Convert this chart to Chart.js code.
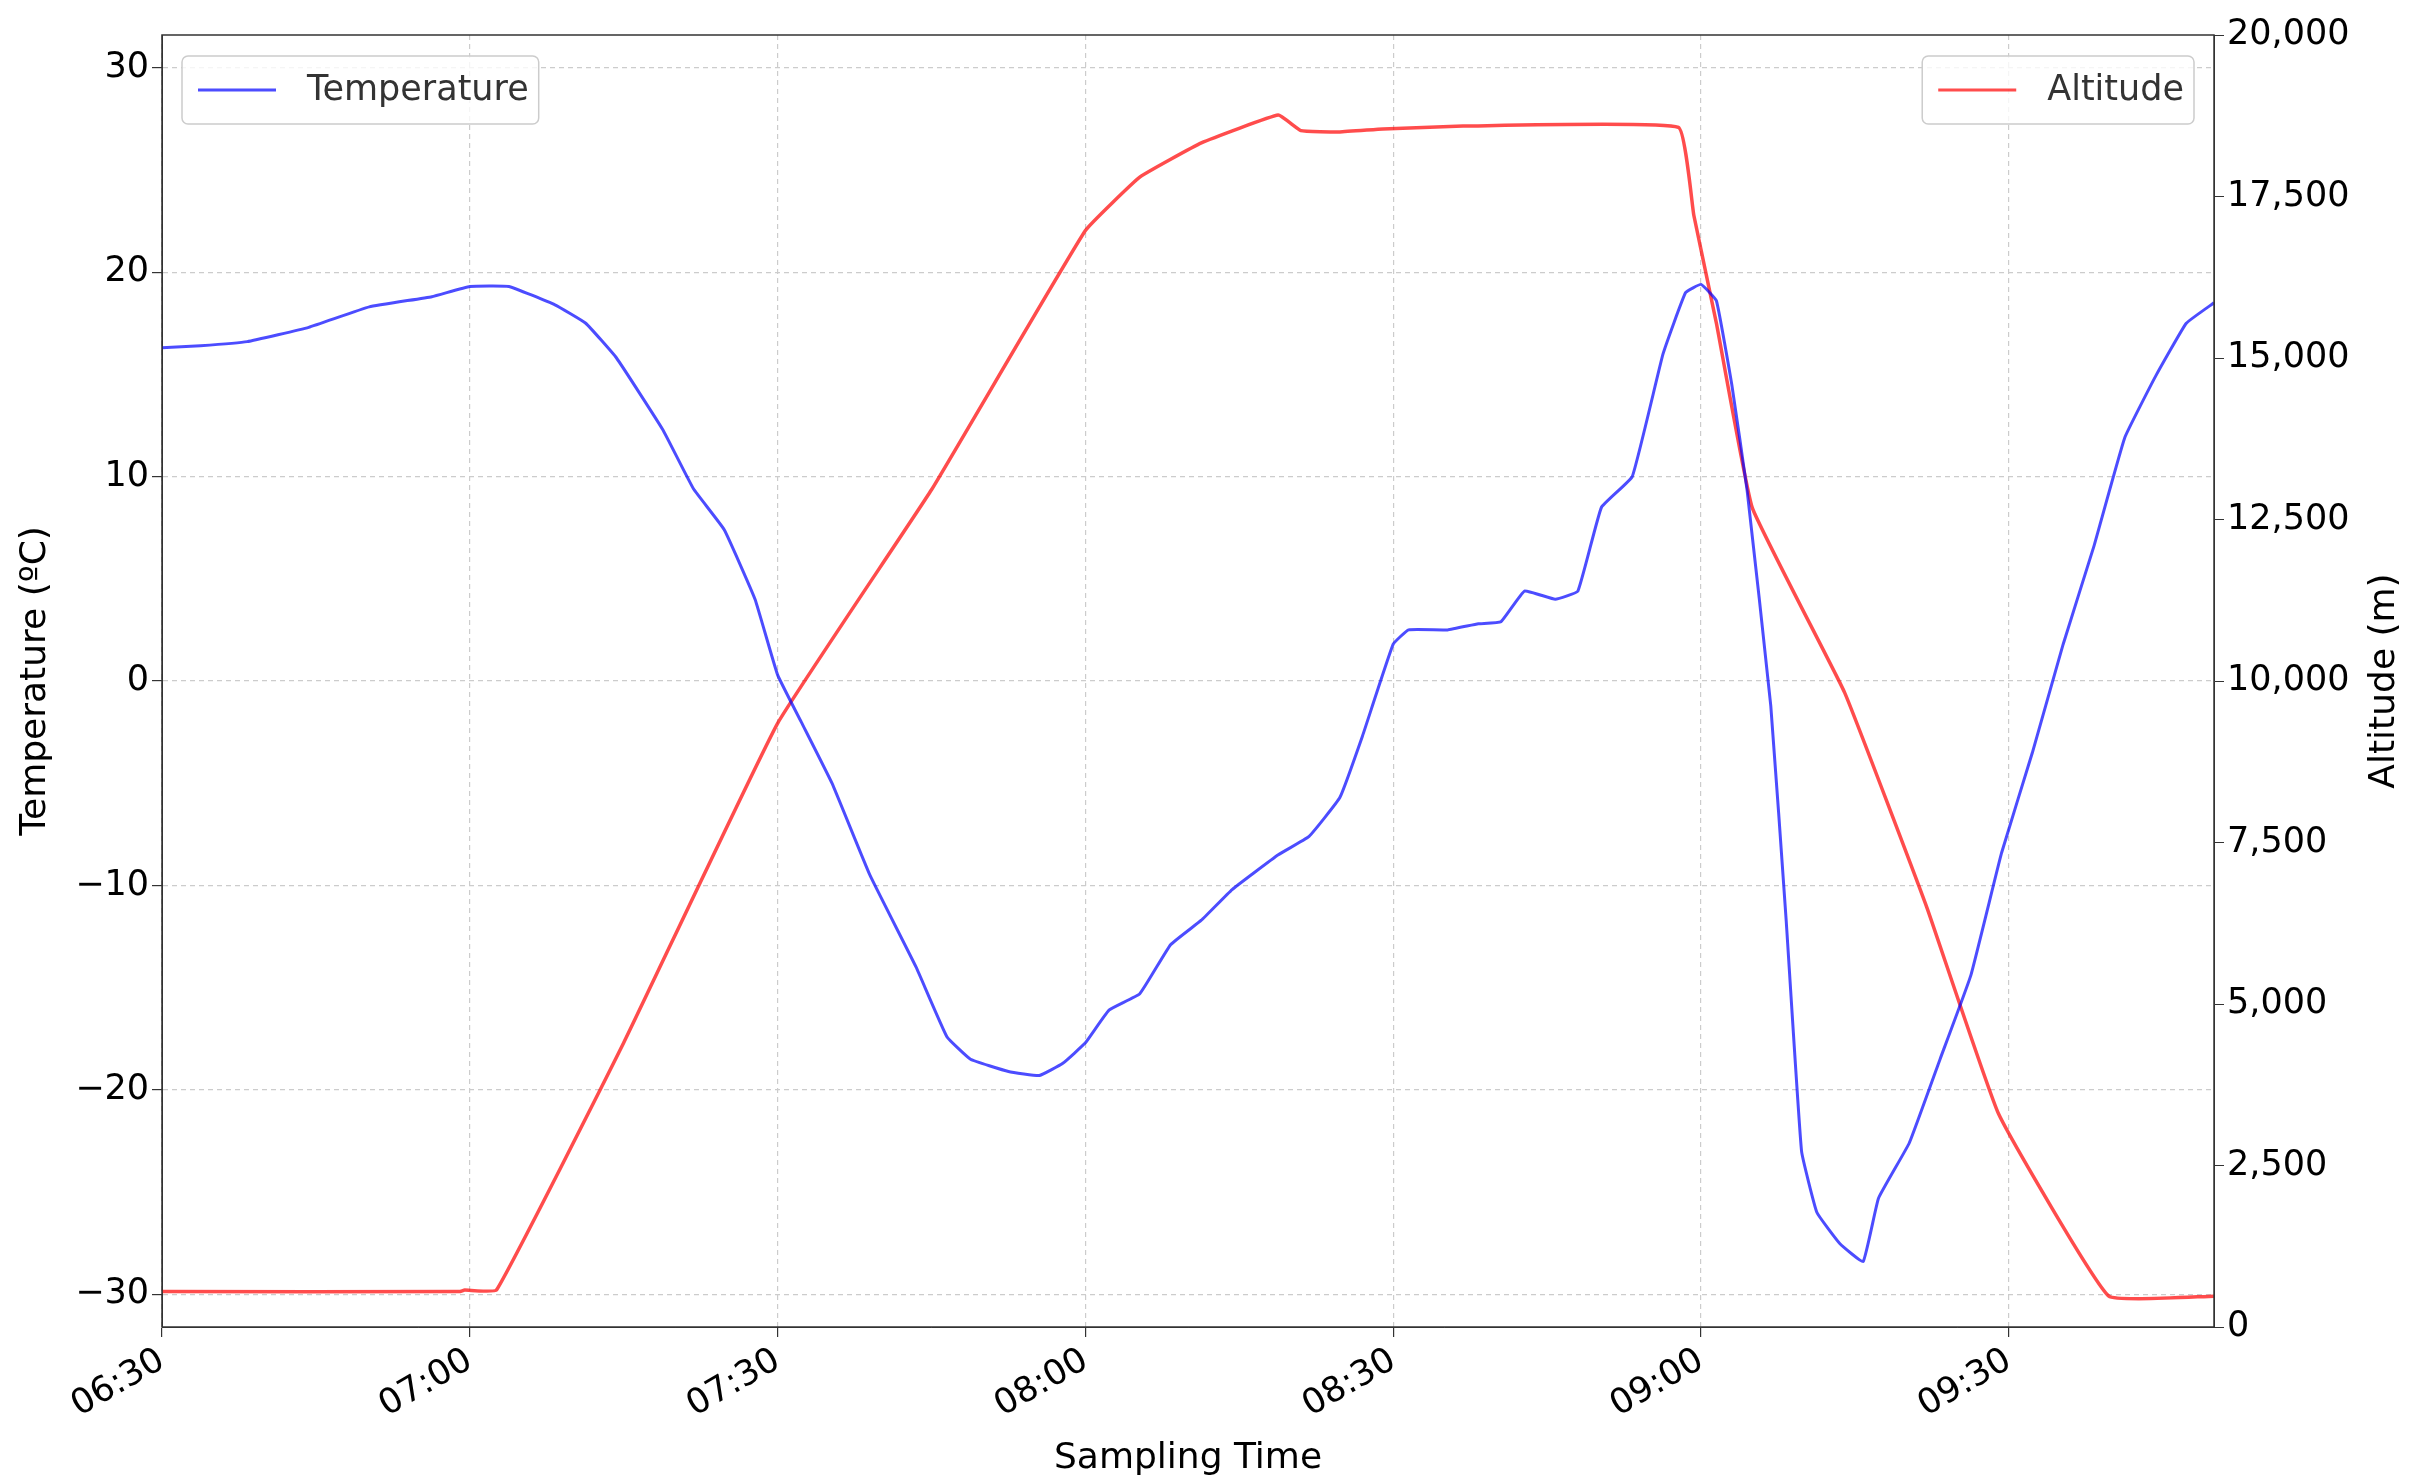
<!DOCTYPE html>
<html><head><meta charset="utf-8">
<script src="https://cdn.jsdelivr.net/npm/chart.js@4"></script>
<style>html,body{margin:0;padding:0;background:#fff}#w{width:2414px;height:1484px}</style>
</head><body><div id="w"><canvas id="c" width="2414" height="1484"></canvas></div>
<script>
// minutes after 06:30
const tempMinutes=[0,3.75,8.3,14.3,20.2,26.3,30,33.8,38.3,41.3,44.3,48.8,51.8,54.8,57.8,60,62.3,65.3,69,73.5,76.5,78.8,82.5,85.5,87.8,90,92.3,95.3,98.3,101.3,104.3,108.8,111.8,114.8,117,120,121.5,125.3,128.3,130.5,132.8,135.8,138,140.3,143.3,146.3,148.5,150,151.5,153,154.5,156.8,158.3,159.8,161.3,163.5,165.8,167.3,170.3,173.3,176.3,179.3,182.3,185.3,188.3,191.3,194.3,197.3,200];
const tempValues=[16.3,16.4,16.6,17.3,18.3,18.8,19.3,19.3,18.4,17.5,15.8,12.3,9.4,7.4,4.0,0.3,-2.0,-5.0,-9.5,-14,-17.4,-18.5,-19.1,-19.3,-18.7,-17.7,-16.1,-15.3,-12.9,-11.7,-10.2,-8.5,-7.6,-5.7,-2.7,1.8,2.5,2.5,2.8,2.9,4.4,4.0,4.4,8.5,10,16,19,19.4,18.6,14.5,9.3,-1.2,-11.7,-23,-26,-27.5,-28.4,-25.3,-22.6,-18.5,-14.4,-8.4,-3.5,1.8,6.6,11.9,14.9,17.5,18.5];
const altMinutes=[0,29,29.5,32.6,45,60,75,90,95.3,101.3,108.8,111,114.8,119,126.8,147.8,149.3,151.5,155,164,172,179,189.75,200];
const altValues=[548,548,572,572,4400,9345,12960,16973,17800,18330,18760,18520,18500,18545,18590,18570,17210,15540,12680,9820,6500,3300,477,477];
const tempTicks=[-30,-20,-10,0,10,20,30];
const altTicks=[0,2500,5000,7500,10000,12500,15000,17500,20000];
const timeLabels=['06:30','07:00','07:30','08:00','08:30','09:00','09:30'];
const F='"DejaVu Sans", sans-serif';
const pts=(xs,ys)=>xs.map((x,i)=>({x:x,y:ys[i]}));
const legendPlugin={id:'lg',afterDraw(ch){
  const c=ch.ctx,a=ch.chartArea;
  function box(x,y,label,col){
    c.font='35px '+F;const tw=c.measureText(label).width;const w=tw+135,h=68;
    c.save();c.fillStyle='rgba(255,255,255,0.8)';c.strokeStyle='#ccc';c.lineWidth=1.5;
    c.beginPath();c.roundRect(x,y,w,h,6);c.fill();c.stroke();
    c.strokeStyle=col;c.lineWidth=3;c.beginPath();c.moveTo(x+16,y+h/2);c.lineTo(x+94,y+h/2);c.stroke();
    c.fillStyle='#333';c.textBaseline='middle';c.fillText(label,x+125,y+h/2+1);c.restore();return w;}
  box(a.left+20,a.top+21,'Temperature','rgba(0,0,255,0.7)');
  c.font='35px '+F;const w=c.measureText('Altitude').width+135;
  box(a.right-20-w,a.top+21,'Altitude','rgba(255,0,0,0.7)');
  c.save();c.strokeStyle='#333';c.lineWidth=1.5;c.strokeRect(a.left,a.top,a.right-a.left,a.bottom-a.top);
  c.translate(2385,(a.top+a.bottom)/2);c.rotate(-Math.PI/2);c.font='36px '+F;c.fillStyle='#000';
  c.textAlign='center';c.textBaseline='middle';c.fillText('Altitude (m)',0,0);c.restore();
}};
new Chart(document.getElementById('c'),{type:'line',
data:{datasets:[
 {label:'Temperature',data:pts(tempMinutes,tempValues),borderColor:'rgba(0,0,255,0.7)',borderWidth:3,pointRadius:0,yAxisID:'y',tension:0.1},
 {label:'Altitude',data:pts(altMinutes,altValues),borderColor:'rgba(255,0,0,0.7)',borderWidth:3.5,pointRadius:0,yAxisID:'y2',tension:0.1}
]},
plugins:[legendPlugin],
options:{responsive:false,animation:false,devicePixelRatio:1,
 layout:{padding:{top:35,left:0,right:0,bottom:0}},
 plugins:{legend:{display:false},tooltip:{enabled:false}},
 scales:{
  x:{type:'linear',min:0,max:200,
   afterBuildTicks(s){s.ticks=timeLabels.map((t,i)=>({value:i*30}));},
   afterFit(s){s.height=157;},
   ticks:{color:'#000',font:{family:F,size:35},maxRotation:30,minRotation:30,callback:(v)=>timeLabels[v/30]},
   grid:{color:'#ccc',tickColor:'#333',tickLength:10,lineWidth:1.2},border:{dash:[5,4],color:'#333'},
   title:{display:true,text:'Sampling Time',color:'#000',font:{family:F,size:36},padding:{top:0}}},
  y:{position:'left',min:-31.6,max:31.6,
   afterBuildTicks(s){s.ticks=tempTicks.map(v=>({value:v}));},
   afterFit(s){s.width=162;},
   ticks:{color:'#000',font:{family:F,size:35},callback:v=>String(v).replace('-','−')},
   grid:{color:'#ccc',tickColor:'#333',tickLength:10,lineWidth:1.2},border:{dash:[5,4],color:'#333'},
   title:{display:true,text:'Temperature (ºC)',color:'#000',font:{family:F,size:36},padding:{bottom:0,top:14}}},
  y2:{position:'right',min:0,max:20000,
   afterBuildTicks(s){s.ticks=altTicks.map(v=>({value:v}));},
   afterFit(s){s.width=200;},
   ticks:{color:'#000',font:{family:F,size:35},callback:v=>v.toLocaleString('en-US')},
   grid:{drawOnChartArea:false,tickColor:'#333',tickLength:10},border:{color:'#333'},
   title:{display:false}}
 }}});
</script></body></html>
